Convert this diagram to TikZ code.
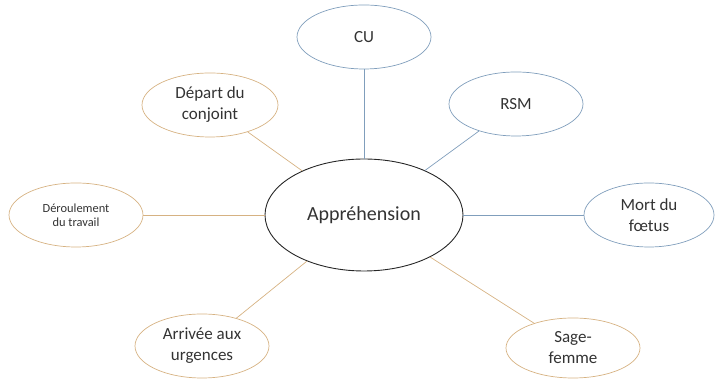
\documentclass[tikz,border=0pt]{standalone}
\usepackage{fontspec}
\setmainfont{Carlito}
\usetikzlibrary{shapes.geometric}

\definecolor{tanline}{RGB}{214,178,130}
\definecolor{blueline}{RGB}{128,158,188}

\begin{document}
\begin{tikzpicture}[x=1pt,y=1pt,
  bubble/.style={ellipse, draw, line width=0.7pt, minimum width=134pt, minimum height=64pt, align=center, font=\fontsize{17}{21}\selectfont, text=black!80},
  tanbubble/.style={bubble, draw=tanline},
  bluebubble/.style={bubble, draw=blueline}]

\useasboundingbox (0,0) rectangle (715,379);

\node [ellipse, draw=black!85, line width=0.9pt, minimum width=198pt, minimum height=112pt, font=\fontsize{20}{24}\selectfont, text=black!80] (appr) at (364,164) {Appréhension};

\node [bluebubble] (cu) at (364,342) {CU};
\node [bluebubble] (rsm) at (516,275) {RSM};
\node [bluebubble, minimum width=130pt] (mort) at (649,164) {Mort du\\fœtus};

\node [tanbubble, minimum width=136pt] (depart) at (210,274) {Départ du\\conjoint};
\node [tanbubble, font=\fontsize{12.4}{14}\selectfont] (deroul) at (76,164) {Déroulement\\du travail};
\node [tanbubble] (arrivee) at (202,33) {Arrivée aux\\urgences};
\node [tanbubble, minimum height=60pt] (sage) at (573,31) {Sage-\\femme};

\foreach \n in {cu,rsm,mort} \draw [blueline, line width=0.7pt] (appr) -- (\n);
\foreach \n in {depart,deroul,arrivee,sage} \draw [tanline, line width=0.7pt] (appr) -- (\n);

\end{tikzpicture}
\end{document}
